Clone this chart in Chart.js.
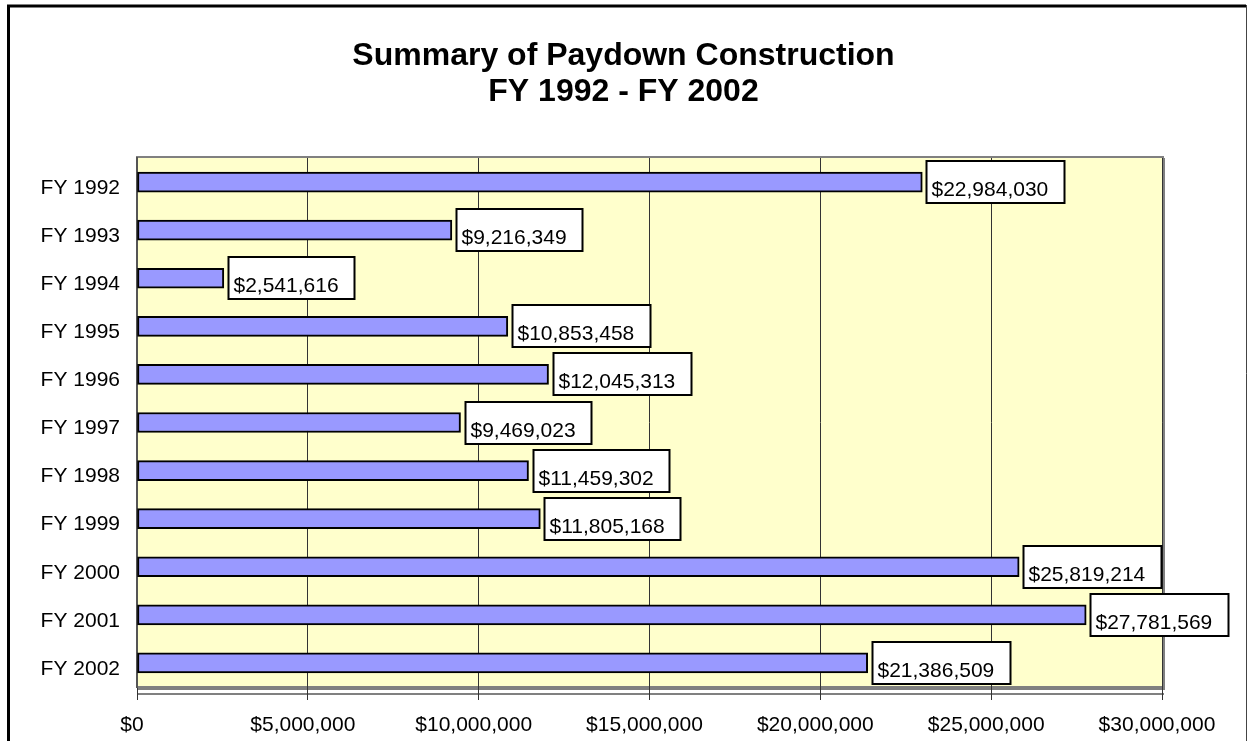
<!DOCTYPE html>
<html>
<head>
<meta charset="utf-8">
<script src="https://cdn.jsdelivr.net/npm/chart.js@4/dist/chart.umd.min.js"></script>
<style>
html,body{margin:0;padding:0;background:#fff;}
#wrap{position:absolute;left:0;top:0;width:1247px;height:741px;}
</style>
</head>
<body>
<div id="wrap"><canvas id="c" width="1247" height="741"></canvas></div>
<script>
const categories = ['FY 1992','FY 1993','FY 1994','FY 1995','FY 1996','FY 1997','FY 1998','FY 1999','FY 2000','FY 2001','FY 2002'];
const values = [22984030, 9216349, 2541616, 10853458, 12045313, 9469023, 11459302, 11805168, 25819214, 27781569, 21386509];
const axisMin = 0;
const axisMax = 30000000;
const axisStep = 5000000;
const titleLines = ['Summary of Paydown Construction', 'FY 1992 - FY 2002'];

const FONT = "'Liberation Sans', Arial, sans-serif";
const money = v => '$' + Number(v).toLocaleString('en-US');

const framePlugin = {
  id: 'frame',
  beforeDraw(chart) {
    const ctx = chart.ctx;
    const a = chart.chartArea;
    ctx.save();
    ctx.fillStyle = '#fff';
    ctx.fillRect(0, 0, chart.width, chart.height);
    ctx.strokeStyle = '#000';
    ctx.lineWidth = 3;
    ctx.beginPath();
    ctx.moveTo(8.5, 800); ctx.lineTo(8.5, 6); ctx.lineTo(1246, 6);
    ctx.stroke();
    ctx.lineWidth = 1;
    ctx.strokeStyle = '#444';
    ctx.beginPath();
    ctx.moveTo(1246.5, 5); ctx.lineTo(1246.5, 800);
    ctx.stroke();
    ctx.fillStyle = '#FFFFCC';
    ctx.fillRect(a.left, a.top, a.right - a.left, a.bottom - a.top);
    ctx.strokeStyle = '#808080';
    ctx.lineWidth = 2;
    ctx.strokeRect(a.left, a.top - 1, a.right - a.left + 1, a.bottom - a.top + 1);
    ctx.beginPath();
    ctx.moveTo(a.right + 2, a.top); ctx.lineTo(a.right + 2, a.bottom + 2);
    ctx.lineTo(a.left, a.bottom + 2);
    ctx.stroke();
    ctx.beginPath();
    ctx.moveTo(a.left, a.bottom + 7); ctx.lineTo(a.right + 2, a.bottom + 7);
    ctx.stroke();
    ctx.restore();
  }
};

const labelPlugin = {
  id: 'valueLabels',
  afterDatasetsDraw(chart) {
    const ctx = chart.ctx;
    const meta = chart.getDatasetMeta(0);
    ctx.save();
    ctx.font = '21px ' + FONT;
    meta.data.forEach((bar, i) => {
      const txt = money(chart.data.datasets[0].data[i]);
      const w = Math.round(ctx.measureText(txt).width) + 21;
      const left = Math.round(bar.x) + 4.5;
      const top = Math.round(bar.y) - 21;
      ctx.fillStyle = '#fff';
      ctx.fillRect(left, top, w, 42);
      ctx.strokeStyle = '#000';
      ctx.lineWidth = 2;
      ctx.strokeRect(left, top, w, 42);
      ctx.fillStyle = '#000';
      ctx.textBaseline = 'alphabetic';
      ctx.textAlign = 'left';
      ctx.fillText(txt, left + 5, bar.y + 14);
    });
    ctx.restore();
  }
};

new Chart(document.getElementById('c'), {
  type: 'bar',
  data: {
    labels: categories,
    datasets: [{
      data: values,
      backgroundColor: '#9999FF',
      borderColor: '#000',
      borderWidth: 2,
      borderSkipped: false,
      barThickness: 20
    }]
  },
  plugins: [framePlugin, labelPlugin],
  options: {
    indexAxis: 'y',
    responsive: false,
    animation: false,
    layout: { padding: 0 },
    plugins: {
      legend: { display: false },
      tooltip: { enabled: false },
      title: {
        display: true,
        text: titleLines,
        color: '#000',
        font: { family: FONT, size: 32, weight: 'bold', lineHeight: 1.125 },
        padding: { top: 38, bottom: 48 }
      }
    },
    scales: {
      x: {
        type: 'linear',
        min: axisMin,
        max: axisMax,
        afterFit: s => { s.height = 54; },
        ticks: {
          stepSize: axisStep,
          color: '#000',
          font: { family: FONT, size: 21 },
          padding: 13,
          labelOffset: -5,
          maxRotation: 0,
          callback: v => money(v)
        },
        grid: { color: '#333', lineWidth: 1, tickLength: 13, drawTicks: true },
        border: { display: false }
      },
      y: {
        type: 'category',
        afterFit: s => { s.width = 137; },
        ticks: { color: '#000', font: { family: FONT, size: 21 }, padding: 17, labelOffset: 6 },
        grid: { display: false, drawTicks: false },
        border: { display: true, color: '#555', width: 2 }
      },
      y2: {
        type: 'linear',
        position: 'right',
        display: true,
        afterFit: s => { s.width = 85; },
        ticks: { display: false },
        grid: { display: false, drawTicks: false },
        border: { display: false }
      }
    }
  }
});
</script>
</body>
</html>
